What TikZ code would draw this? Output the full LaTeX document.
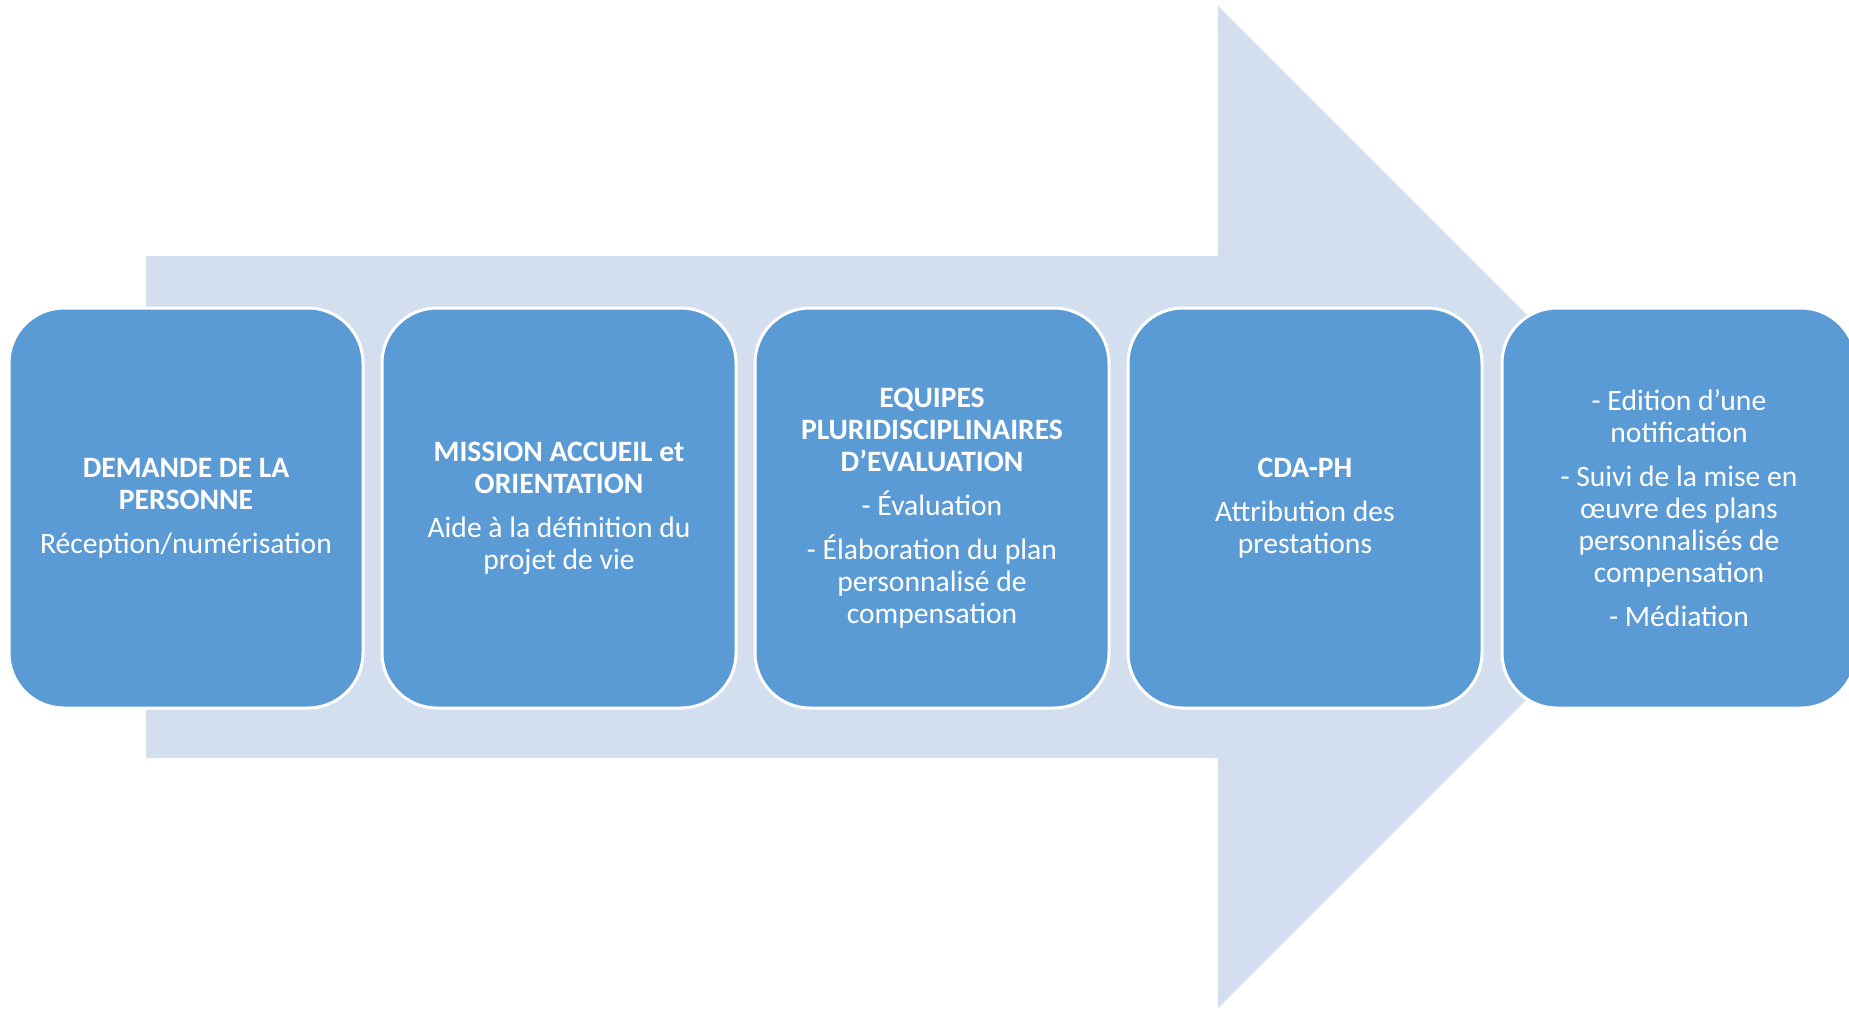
\documentclass[tikz,border=0pt]{standalone}
\usepackage{fontspec}
\setmainfont{Carlito}
\definecolor{fleche}{HTML}{D3DEEF}
\definecolor{bleu}{HTML}{5B9BD5}
\begin{document}
\begin{tikzpicture}[x=0.5pt, y=-0.5pt,
    etape/.style={draw=white, line width=1.5pt, fill=bleu, rounded corners=27.5pt,
        minimum width=177pt, minimum height=200pt, inner sep=0pt,
        align=center, text=white, font=\fontsize{14.8}{16}\selectfont}]

    \useasboundingbox (0,0) rectangle (1849,1009);
    \clip (0,0) rectangle (1849,1009);

    % grande fleche
    \fill[fleche] (146,256) -- (1218,256) -- (1218,6) -- (1719,507) -- (1218,1008) -- (1218,758) -- (146,758) -- cycle;

    \node[etape] (demande) at (186,508) {\textbf{DEMANDE DE LA}\\\textbf{PERSONNE}\\[6pt]Réception/numérisation};
    \node[etape] (accueil) at (559,508) {\textbf{MISSION ACCUEIL et}\\\textbf{ORIENTATION}\\[6pt]Aide à la définition du\\projet de vie};
    \node[etape] (equipes) at (932,508) {\textbf{EQUIPES}\\\textbf{PLURIDISCIPLINAIRES}\\\textbf{D’EVALUATION}\\[6pt]- Évaluation\\[6pt]- Élaboration du plan\\personnalisé de\\compensation};
    \node[etape] (cdaph) at (1305,508) {\textbf{CDA-PH}\\[6pt]Attribution des\\prestations};
    \node[etape] (suivi) at (1679,508) {- Edition d’une\\notification\\[6pt]- Suivi de la mise en\\œuvre des plans\\personnalisés de\\compensation\\[6pt]- Médiation};

\end{tikzpicture}
\end{document}
